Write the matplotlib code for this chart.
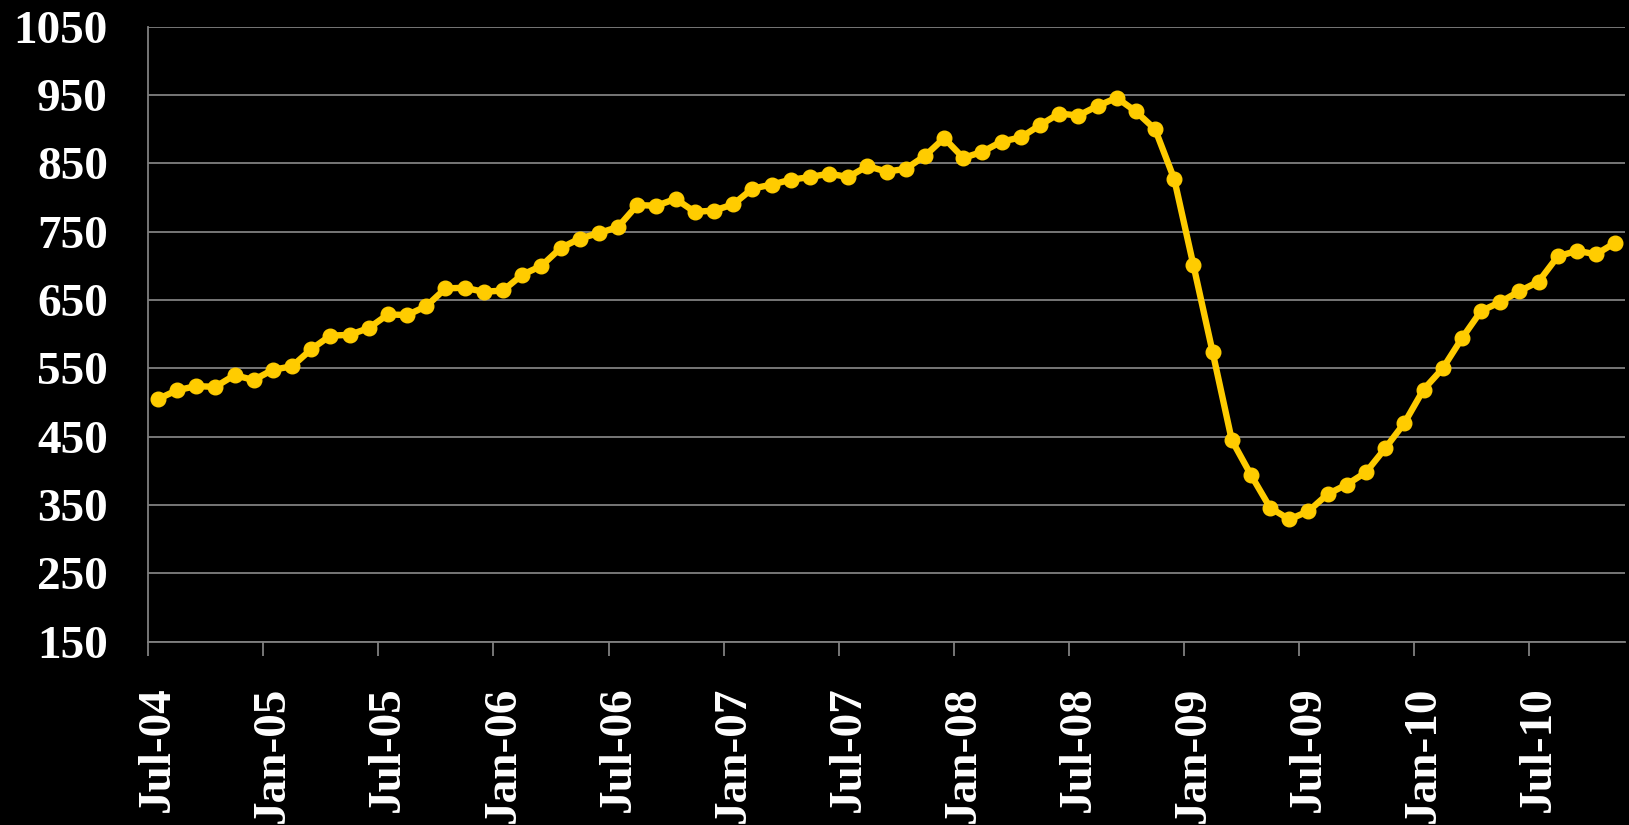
import numpy as np
import matplotlib.pyplot as plt
import matplotlib.transforms as mtransforms

# monthly values, Jul-04 .. Nov-10
values = [505, 518, 524, 523, 540, 533, 548, 553, 578, 598,
          599, 609, 629, 628, 641, 667, 668, 662, 664, 687,
          700, 726, 740, 748, 757, 789, 788, 798, 779, 781,
          790, 813, 819, 826, 830, 835, 830, 846, 838, 842,
          861, 887, 858, 867, 882, 888, 906, 923, 920, 934,
          946, 926, 900, 827, 701, 574, 445, 394, 346, 329,
          341, 366, 380, 398, 433, 470, 519, 550, 594, 634,
          647, 663, 677, 714, 722, 717, 734]
tick_labels = ['Jul-04', 'Jan-05', 'Jul-05', 'Jan-06', 'Jul-06', 'Jan-07', 'Jul-07',
               'Jan-08', 'Jul-08', 'Jan-09', 'Jul-09', 'Jan-10', 'Jul-10']
y_ticks = list(range(150, 1051, 100))

plt.rcParams['font.family'] = ['Liberation Serif', 'DejaVu Serif']
plt.rcParams['font.weight'] = 'bold'

fig = plt.figure(figsize=(16.29, 8.25), dpi=100, facecolor='black')
ax = fig.add_axes([0.091, 0.2222, 0.9065, 0.7454], facecolor='black')

x = np.arange(len(values))
ax.plot(x, values, color='#FFCC00', lw=4.6, marker='o', markersize=10.5,
        zorder=3, clip_on=False)

ax.set_xlim(-0.5, len(values) - 0.5)
ax.set_ylim(150, 1050)
ax.set_yticks(y_ticks)
ax.set_yticklabels([str(v) for v in y_ticks])
ax.yaxis.grid(True, color='#808080', lw=1.3)
ax.set_axisbelow(True)

tick_pos = np.arange(len(tick_labels)) * 6 - 0.5
ax.set_xticks(tick_pos)
ax.set_xticklabels(tick_labels, rotation=90, va='top', ha='center')

ax.tick_params(axis='y', length=0, pad=29, labelsize=34, labelcolor='white')
ax.tick_params(axis='x', length=10, width=1.3, color='#808080', pad=22,
               labelsize=34, labelcolor='white')

offset = mtransforms.ScaledTranslation(10 / 100, 0, fig.dpi_scale_trans)
for lab in ax.get_xticklabels():
    lab.set_transform(lab.get_transform() + offset)

for side in ['top', 'right']:
    ax.spines[side].set_visible(False)
for side in ['left', 'bottom']:
    ax.spines[side].set_color('#808080')
    ax.spines[side].set_linewidth(1.3)

fig.savefig('out.png', dpi=100, facecolor='black')
